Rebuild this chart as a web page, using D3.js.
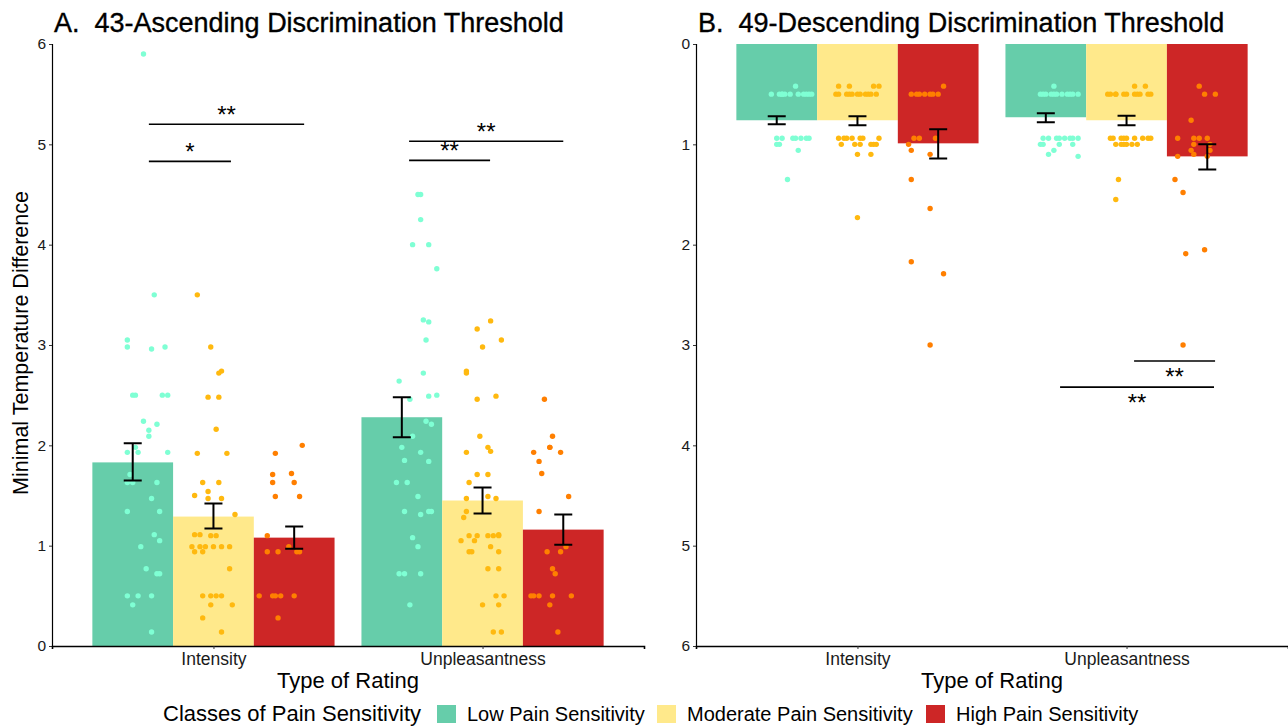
<!DOCTYPE html>
<html>
<head>
<meta charset="utf-8">
<script src="https://cdn.jsdelivr.net/npm/d3@7"></script>
<style>
  body { margin: 0; background: #fff; }
  text { font-family: "Liberation Sans", Arial, sans-serif; }
</style>
</head>
<body>
<div id="chart"></div>
<script>
// categories and tick labels
const ratings = ["Intensity", "Unpleasantness"];
const classes = ["Low Pain Sensitivity", "Moderate Pain Sensitivity", "High Pain Sensitivity"];
const yTicks = [0, 1, 2, 3, 4, 5, 6];

// A: 43-ascending, means and error bar bounds (per rating, per class)
const ascMeans = [[1.83, 1.29, 1.08], [2.28, 1.45, 1.16]];
const ascLo = [[1.65, 1.17, 0.97], [2.08, 1.32, 1.01]];
const ascHi = [[2.02, 1.42, 1.19], [2.48, 1.58, 1.31]];

// B: 49-descending
const descMeans = [[0.76, 0.76, 0.99], [0.73, 0.76, 1.12]];
const descLo = [[0.72, 0.72, 0.85], [0.69, 0.715, 1.0]];
const descHi = [[0.80, 0.81, 1.14], [0.78, 0.81, 1.25]];

// individual participants: [jitter (1/100 of a category), value]
const ascIntLow = [[-26,5.9],[-22,3.5],[-32,3.05],[-32,2.98],[-23,2.96],[-18,2.98],[-30,2.5],[-29,2.5],[-19,2.5],[-17,2.5],[-26,2.24],[-21,2.21],[-24,2.15],[-24,2.09],[-29,1.98],[-32,1.93],[-28,1.93],[-17,1.93],[-31,1.71],[-32,1.63],[-30,1.63],[-21,1.63],[-23,1.47],[-32,1.34],[-20,1.34],[-22,1.11],[-20,1.05],[-27,0.99],[-25,0.77],[-21,0.72],[-20,0.72],[-32,0.5],[-28,0.5],[-23,0.5],[-30,0.41],[-23,0.14]];
const ascIntMod = [[-6,3.5],[-1,2.98],[2,2.72],[3,2.74],[-2,2.48],[2,2.48],[1,2.16],[-6,1.92],[5,1.92],[-4,1.63],[2,1.63],[-2,1.54],[-7,1.5],[-2,1.47],[3,1.47],[8,1.31],[-7,1.11],[-5,1.11],[-1,1.1],[1,1.1],[-8,0.99],[-5,0.99],[-3,0.99],[0,0.99],[3,0.99],[6,0.99],[-7,0.94],[-4,0.94],[6,0.77],[-4,0.5],[-1,0.5],[1,0.5],[3,0.5],[-1,0.41],[7,0.41],[-4,0.28],[3,0.14]];
const ascIntHigh = [[33,2.0],[23,1.92],[22,1.71],[29,1.72],[22,1.63],[30,1.63],[23,1.49],[32,1.49],[20,1.1],[28,0.99],[20,0.94],[24,0.94],[31,0.94],[32,0.94],[17,0.5],[22,0.5],[23,0.5],[25,0.5],[30,0.5],[24,0.28]];
const ascUnpLow = [[-24,4.5],[-23,4.5],[-23,4.25],[-26,4.0],[-20,4.0],[-17,3.76],[-22,3.25],[-20,3.23],[-21,3.05],[-22,2.72],[-31,2.64],[-27,2.46],[-20,2.49],[-17,2.5],[-21,2.24],[-19,2.21],[-26,2.09],[-30,1.98],[-23,1.93],[-29,1.85],[-20,1.84],[-32,1.63],[-28,1.63],[-24,1.49],[-29,1.34],[-23,1.31],[-20,1.34],[-19,1.34],[-26,1.08],[-24,0.99],[-31,0.72],[-29,0.72],[-23,0.72],[-27,0.41]];
const ascUnpMod = [[3,3.24],[-2,3.16],[7,3.05],[0,2.98],[-6,2.74],[-6,2.72],[-2,2.46],[5,2.49],[-1,2.09],[2,1.98],[3,1.94],[-6,1.93],[-2,1.71],[2,1.71],[-5,1.63],[-6,1.47],[2,1.49],[5,1.47],[-6,1.34],[-7,1.28],[-5,1.1],[-2,1.1],[2,1.1],[4,1.1],[6,1.11],[6,1.1],[-8,1.05],[-3,1.05],[3,0.99],[-5,0.94],[-4,0.94],[6,0.94],[2,0.77],[6,0.77],[5,0.5],[8,0.5],[0,0.41],[6,0.41],[4,0.14],[7,0.14]];
const ascUnpHigh = [[23,2.46],[26,2.09],[25,1.98],[25,1.98],[19,1.93],[29,1.93],[21,1.84],[22,1.72],[32,1.49],[21,1.34],[31,0.99],[24,0.94],[29,0.94],[26,0.77],[27,0.72],[18,0.5],[19,0.5],[21,0.5],[26,0.5],[33,0.5],[25,0.41],[28,0.14]];

const descIntLow = [[-23,0.42],[-32,0.5],[-29,0.5],[-28,0.5],[-28,0.5],[-27,0.5],[-25,0.5],[-22,0.5],[-20,0.5],[-19,0.5],[-18,0.5],[-17,0.5],[-30,0.94],[-28,0.94],[-24,0.94],[-23,0.94],[-21,0.94],[-19,0.94],[-18,0.94],[-30,1.0],[-29,1.0],[-22,1.06],[-26,1.35]];
const descIntMod = [[-7,0.42],[-3,0.42],[6,0.42],[8,0.42],[-8,0.5],[-7,0.5],[-4,0.5],[-3,0.5],[-2,0.5],[0,0.5],[1,0.5],[3,0.5],[4,0.5],[5,0.5],[7,0.5],[-7,0.94],[-5,0.94],[-4,0.94],[-2,0.94],[1,0.94],[2,0.94],[8,0.94],[-6,1.0],[-1,1.0],[1,1.0],[5,1.0],[6,1.0],[7,1.0],[0,1.1],[5,1.1],[0,1.73]];
const descIntHigh = [[32,0.42],[20,0.5],[22,0.5],[23,0.5],[25,0.5],[27,0.5],[28,0.5],[30,0.5],[21,0.94],[23,0.94],[29,0.94],[19,1.0],[20,1.06],[27,1.1],[20,1.35],[27,1.64],[20,2.17],[32,2.29],[27,3.0]];
const descUnpLow = [[-27,0.42],[-32,0.5],[-31,0.5],[-30,0.5],[-28,0.5],[-27,0.5],[-26,0.5],[-24,0.5],[-22,0.5],[-21,0.5],[-20,0.5],[-18,0.5],[-31,0.94],[-29,0.94],[-26,0.94],[-25,0.94],[-23,0.94],[-21,0.94],[-20,0.94],[-18,0.94],[-32,1.0],[-31,1.0],[-25,1.0],[-20,1.0],[-27,1.06],[-29,1.1],[-18,1.12]];
const descUnpMod = [[3,0.42],[7,0.42],[-7,0.5],[-6,0.5],[-4,0.5],[-4,0.5],[-1,0.5],[0,0.5],[3,0.5],[4,0.5],[5,0.5],[8,0.5],[9,0.5],[-6,0.94],[-5,0.94],[-2,0.94],[-1,0.94],[0,0.94],[3,0.94],[6,0.94],[8,0.94],[9,0.94],[-4,1.0],[-2,1.0],[-1,1.0],[0,1.0],[2,1.0],[4,1.0],[-3,1.35],[-4,1.55]];
const descUnpHigh = [[27,0.42],[29,0.5],[33,0.5],[24,0.76],[19,0.94],[25,0.94],[27,0.94],[30,0.94],[25,1.0],[31,1.0],[24,1.06],[31,1.06],[19,1.12],[25,1.1],[30,1.12],[18,1.35],[21,1.48],[22,2.09],[29,2.05],[21,3.0]];

// significance brackets: [x start, x end, y, label] in axis units
const ascSig = [[0.76, 1.065, 4.83, "*"], [0.76, 1.337, 5.2, "**"], [1.727, 2.028, 4.84, "**"], [1.727, 2.3, 5.03, "**"]];
const descSig = [[2.028, 2.329, 3.16, "**"], [1.753, 2.325, 3.42, "**"]];

const barColors = ["#66CDAA", "#FFE98B", "#CD2626"];
const dotColors = ["#7FFFD4", "#FFB90F", "#FF7F00"];
const dodge = [-0.3, 0, 0.3];
const barW = 0.3;

const W = 1288, H = 726;
const plotTop = 44, plotBottom = 646;

const svg = d3.select("#chart").append("svg")
    .attr("width", W)
    .attr("height", H);

function panel(opts) {
    const x = d3.scaleLinear().domain([0.4, 2.6]).range([opts.left, opts.right]);
    const y = d3.scaleLinear().domain([0, 6])
        .range(opts.reversed ? [plotTop, plotBottom] : [plotBottom, plotTop]);
    const g = svg.append("g");

    // bars
    const bars = [];
    opts.means.forEach((row, r) => row.forEach((m, c) =>
        bars.push({ r: r, c: c, m: m, lo: opts.lo[r][c], hi: opts.hi[r][c] })));

    g.append("g").selectAll("rect")
        .data(bars)
        .join("rect")
        .attr("x", d => x(d.r + 1 + dodge[d.c] - barW / 2))
        .attr("width", d => x(d.r + 1 + dodge[d.c] + barW / 2) - x(d.r + 1 + dodge[d.c] - barW / 2))
        .attr("y", d => Math.min(y(0), y(d.m)))
        .attr("height", d => Math.abs(y(d.m) - y(0)))
        .attr("fill", d => barColors[d.c]);

    // jittered points
    const pts = [];
    opts.points.forEach((row, r) => row.forEach((arr, c) =>
        arr.forEach(p => pts.push({ r: r, c: c, j: p[0], v: p[1] }))));

    g.append("g").selectAll("circle")
        .data(pts)
        .join("circle")
        .attr("cx", d => x(d.r + 1 + d.j / 100))
        .attr("cy", d => y(d.v))
        .attr("r", 2.7)
        .attr("fill", d => dotColors[d.c]);

    // error bars
    const eb = g.append("g").attr("stroke", "#000").attr("stroke-width", 2).attr("fill", "none");
    eb.selectAll("path")
        .data(bars)
        .join("path")
        .attr("d", d => {
            const cx = x(d.r + 1 + dodge[d.c]);
            const y0 = y(d.lo), y1 = y(d.hi);
            return `M${cx - 9},${y0}H${cx + 9}M${cx - 9},${y1}H${cx + 9}M${cx},${y0}V${y1}`;
        });

    // significance brackets
    const sg = g.append("g");
    sg.selectAll("line")
        .data(opts.sig)
        .join("line")
        .attr("x1", d => x(d[0]))
        .attr("x2", d => x(d[1]))
        .attr("y1", d => y(d[2]))
        .attr("y2", d => y(d[2]))
        .attr("stroke", "#000")
        .attr("stroke-width", 1.6);
    sg.selectAll("text")
        .data(opts.sig)
        .join("text")
        .attr("x", d => (x(d[0]) + x(d[1])) / 2)
        .attr("y", d => y(d[2]) + (opts.reversed ? 24 : -1))
        .attr("text-anchor", "middle")
        .style("font-size", "24px")
        .text(d => d[3]);

    // y axis
    const ya = g.append("g")
        .attr("transform", `translate(${opts.left},0)`)
        .call(d3.axisLeft(y).tickValues(yTicks).tickSize(3).tickPadding(3).tickFormat(d3.format("d")));
    ya.select(".domain").attr("stroke", "#000").attr("stroke-width", 1.2);
    ya.selectAll(".tick line").attr("stroke", "#333");
    ya.selectAll("text").style("font-size", "15.5px").attr("fill", "#1a1a1a")
        .style("font-family", "Liberation Sans, Arial, sans-serif");

    // x axis
    const xa = g.append("g")
        .attr("transform", `translate(0,${plotBottom})`)
        .call(d3.axisBottom(x).tickValues([1, 2]).tickSize(3).tickPadding(4).tickFormat(d => ratings[d - 1]));
    xa.select(".domain").attr("stroke", "#000").attr("stroke-width", 1.6);
    xa.selectAll(".tick line").attr("stroke", "#333");
    xa.selectAll("text").style("font-size", "17.5px").attr("fill", "#1a1a1a")
        .style("font-family", "Liberation Sans, Arial, sans-serif");

    svg.append("text")
        .attr("x", (opts.left + opts.right) / 2)
        .attr("y", 688)
        .attr("text-anchor", "middle")
        .style("font-size", "22px")
        .text("Type of Rating");

    svg.append("text")
        .attr("x", opts.left + 2)
        .attr("y", 32)
        .style("font-size", "27px")
        .style("white-space", "pre")
        .attr("stroke", "#000")
        .attr("stroke-width", 0.35)
        .text(opts.title);
}

panel({
    left: 52, right: 644, reversed: false,
    title: "A.  43-Ascending Discrimination Threshold",
    means: ascMeans, lo: ascLo, hi: ascHi,
    points: [[ascIntLow, ascIntMod, ascIntHigh], [ascUnpLow, ascUnpMod, ascUnpHigh]],
    sig: ascSig
});

panel({
    left: 696, right: 1288, reversed: true,
    title: "B.  49-Descending Discrimination Threshold",
    means: descMeans, lo: descLo, hi: descHi,
    points: [[descIntLow, descIntMod, descIntHigh], [descUnpLow, descUnpMod, descUnpHigh]],
    sig: descSig
});

// y axis title
svg.append("text")
    .attr("transform", "translate(28,343) rotate(-90)")
    .attr("text-anchor", "middle")
    .style("font-size", "21.5px")
    .text("Minimal Temperature Difference");

// legend
const lg = svg.append("g");
lg.append("text")
    .attr("x", 163)
    .attr("y", 721)
    .style("font-size", "22px")
    .text("Classes of Pain Sensitivity");
const legX = [437, 657, 926];
classes.forEach((c, i) => {
    lg.append("rect")
        .attr("x", legX[i]).attr("y", 705)
        .attr("width", 19).attr("height", 18)
        .attr("fill", barColors[i]);
    lg.append("text")
        .attr("x", legX[i] + 30)
        .attr("y", 721)
        .style("font-size", "20px")
        .text(c);
});
</script>
</body>
</html>
